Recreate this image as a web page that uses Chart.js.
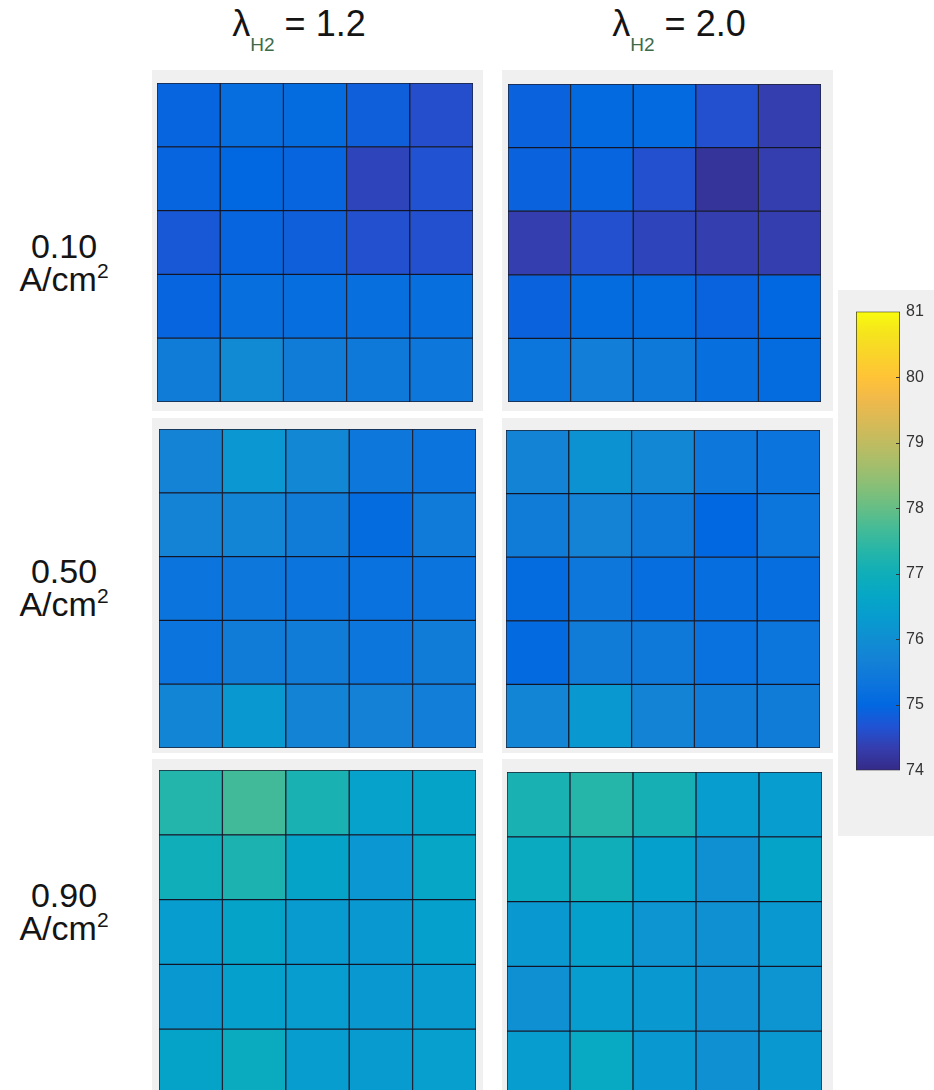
<!DOCTYPE html>
<html>
<head>
<meta charset="utf-8">
<script src="https://cdn.jsdelivr.net/npm/chart.js@4.4.0/dist/chart.umd.min.js"></script>
<style>
  body { margin: 0; background: #fff; width: 934px; height: 1090px; overflow: hidden; position: relative;
         font-family: "Liberation Sans", Arial, sans-serif; color: #141414; }
  .panel { position: absolute; background: #f0f0f0; }
  canvas { position: absolute; }
  .title { position: absolute; top: 4px; width: 240px; text-align: center; font-size: 36px; line-height: 40px; white-space: nowrap; }
  .title sub { font-size: 19px; vertical-align: -15px; line-height: 0; color: #3d6b4a; }
  .rowlab { position: absolute; left: 0; width: 128px; text-align: center; font-size: 34px; line-height: 33px; }
  .rowlab sup { font-size: 21px; vertical-align: 13px; line-height: 0; }
</style>
</head>
<body>
<div class="panel" style="left:152px;top:70px;width:331px;height:341px"></div>
<div class="panel" style="left:502px;top:70px;width:331px;height:341px"></div>
<div class="panel" style="left:152px;top:418px;width:331px;height:335px"></div>
<div class="panel" style="left:502px;top:418px;width:331px;height:335px"></div>
<div class="panel" style="left:152px;top:759px;width:331px;height:331px"></div>
<div class="panel" style="left:502px;top:759px;width:331px;height:331px"></div>
<div class="panel" style="left:838px;top:290px;width:96px;height:546px"></div>

<div class="title" style="left:179px">&lambda;<sub>H2</sub> = 1.2</div>
<div class="title" style="left:559px">&lambda;<sub>H2</sub> = 2.0</div>

<div class="rowlab" style="top:230px">0.10<br>A/cm<sup>2</sup></div>
<div class="rowlab" style="top:555px">0.50<br>A/cm<sup>2</sup></div>
<div class="rowlab" style="top:879px">0.90<br>A/cm<sup>2</sup></div>

<canvas id="m010_12" width="318" height="321" style="left:156px;top:82px"></canvas>
<canvas id="m010_20" width="315" height="320" style="left:507px;top:83px"></canvas>
<canvas id="m050_12" width="319" height="321" style="left:158px;top:428px"></canvas>
<canvas id="m050_20" width="316" height="320" style="left:505px;top:429px"></canvas>
<canvas id="m090_12" width="319" height="326" style="left:158px;top:769px"></canvas>
<canvas id="m090_20" width="317" height="326" style="left:506px;top:771px"></canvas>
<canvas id="cbar" width="84" height="490" style="left:850px;top:296px"></canvas>

<script>
// cell grid: 5 columns, rows listed top to bottom
const cellColumns = ['1', '2', '3', '4', '5'];
const colorTicks = [74, 75, 76, 77, 78, 79, 80, 81];
const colorMin = 74;
const colorMax = 81;

// 0.10 A/cm2
const j010_l12 = [
  [74.95, 75.15, 75.1, 74.85, 74.6],
  [74.95, 75.0, 74.95, 74.45, 74.65],
  [74.75, 74.95, 74.85, 74.62, 74.62],
  [74.95, 75.2, 75.15, 75.2, 75.2],
  [75.55, 75.9, 75.55, 75.45, 75.4]
];
const j010_l20 = [
  [74.9, 75.05, 75.05, 74.62, 74.35],
  [74.9, 74.95, 74.62, 74.18, 74.35],
  [74.35, 74.62, 74.45, 74.35, 74.35],
  [74.9, 75.1, 75.1, 74.92, 75.0],
  [75.35, 75.6, 75.45, 75.2, 75.1]
];
// 0.50 A/cm2
const j050_l12 = [
  [75.7, 76.2, 75.85, 75.4, 75.3],
  [75.7, 75.8, 75.55, 75.1, 75.5],
  [75.3, 75.4, 75.3, 75.25, 75.3],
  [75.3, 75.55, 75.55, 75.35, 75.55],
  [75.8, 76.25, 75.75, 75.65, 75.6]
];
const j050_l20 = [
  [75.75, 76.1, 75.85, 75.4, 75.3],
  [75.55, 75.7, 75.45, 75.0, 75.35],
  [75.1, 75.4, 75.15, 75.15, 75.15],
  [75.05, 75.55, 75.45, 75.25, 75.35],
  [75.8, 76.25, 75.75, 75.55, 75.55]
];
// 0.90 A/cm2
const j090_l12 = [
  [77.3, 77.65, 77.15, 76.5, 76.55],
  [77.0, 77.2, 76.55, 76.2, 76.65],
  [76.35, 76.55, 76.3, 76.25, 76.45],
  [76.25, 76.45, 76.35, 76.25, 76.3],
  [76.55, 76.85, 76.35, 76.3, 76.4]
];
const j090_l20 = [
  [77.15, 77.35, 77.1, 76.35, 76.35],
  [76.8, 77.0, 76.45, 76.05, 76.55],
  [76.25, 76.45, 76.15, 76.05, 76.25],
  [76.05, 76.35, 76.25, 76.05, 76.15],
  [76.35, 76.75, 76.25, 76.05, 76.25]
];

// parula, every third entry of the 64-colour table
const parula = [
  [0.2081, 0.1663, 0.5292], [0.2081, 0.2386, 0.6771], [0.1253, 0.3242, 0.8303], [0.0060, 0.4086, 0.8828],
  [0.0498, 0.4586, 0.8641], [0.0779, 0.5040, 0.8384], [0.0641, 0.5570, 0.8240], [0.0265, 0.6137, 0.8135],
  [0.0228, 0.6535, 0.7768], [0.0590, 0.6838, 0.7254], [0.1453, 0.7098, 0.6646], [0.2586, 0.7317, 0.5954],
  [0.3953, 0.7459, 0.5244], [0.5300, 0.7491, 0.4661], [0.6473, 0.7456, 0.4188], [0.7525, 0.7384, 0.3768],
  [0.8507, 0.7299, 0.3360], [0.9450, 0.7261, 0.2886], [0.9990, 0.7653, 0.2164], [0.9789, 0.8271, 0.1633],
  [0.9589, 0.8949, 0.1132], [0.9763, 0.9831, 0.0538]
];

function rgb(c) {
  return 'rgb(' + c.map(v => Math.round(v * 255)).join(',') + ')';
}

function colorFor(v) {
  let t = (v - colorMin) / (colorMax - colorMin);
  t = Math.max(0, Math.min(1, t)) * (parula.length - 1);
  const i = Math.min(Math.floor(t), parula.length - 2);
  const f = t - i;
  return rgb(parula[i].map((a, k) => a + (parula[i + 1][k] - a) * f));
}

function drawMap(id, values) {
  const datasets = [];
  // stacked bars build from the bottom, so last row goes first
  for (let r = values.length - 1; r >= 0; r--) {
    datasets.push({
      data: values[r].map(() => 1),
      backgroundColor: values[r].map(colorFor),
      borderColor: 'rgba(5,10,30,0.9)',
      borderWidth: 1,
      borderSkipped: false,
      barPercentage: 1,
      categoryPercentage: 1
    });
  }
  new Chart(document.getElementById(id), {
    type: 'bar',
    data: { labels: cellColumns, datasets: datasets },
    options: {
      responsive: false,
      animation: false,
      layout: { padding: 1 },
      plugins: { legend: { display: false }, tooltip: { enabled: false } },
      scales: {
        x: { stacked: true, display: false },
        y: { stacked: true, display: false, min: 0, max: values.length }
      }
    }
  });
}

drawMap('m010_12', j010_l12);
drawMap('m010_20', j010_l20);
drawMap('m050_12', j050_l12);
drawMap('m050_20', j050_l20);
drawMap('m090_12', j090_l12);
drawMap('m090_20', j090_l20);

// small inward tick marks on the colour bar
const innerTicks = {
  id: 'innerTicks',
  afterDatasetsDraw(chart) {
    const y = chart.scales.y;
    const c = chart.ctx;
    const right = chart.chartArea.right;
    c.save();
    c.strokeStyle = '#333';
    c.lineWidth = 1;
    colorTicks.slice(1, -1).forEach(t => {
      const py = Math.round(y.getPixelForValue(t)) + 0.5;
      c.beginPath();
      c.moveTo(right - 4, py);
      c.lineTo(right, py);
      c.stroke();
    });
    c.restore();
  }
};

new Chart(document.getElementById('cbar'), {
  type: 'bar',
  data: {
    labels: [''],
    datasets: [{
      data: [[colorMin, colorMax]],
      backgroundColor: function (ctx) {
        const chart = ctx.chart;
        if (!chart.chartArea) return null;
        const y = chart.scales.y;
        const g = chart.ctx.createLinearGradient(0, y.getPixelForValue(colorMin), 0, y.getPixelForValue(colorMax));
        parula.forEach((c, i) => g.addColorStop(i / (parula.length - 1), rgb(c)));
        return g;
      },
      borderColor: '#2a2a2a',
      borderWidth: 1,
      borderSkipped: false,
      barPercentage: 1,
      categoryPercentage: 1
    }]
  },
  options: {
    responsive: false,
    animation: false,
    layout: { padding: { left: 6, top: 13, bottom: 14, right: 0 } },
    plugins: { legend: { display: false }, tooltip: { enabled: false } },
    scales: {
      x: { display: false },
      y: {
        position: 'right',
        min: colorMin,
        max: colorMax,
        afterFit: s => { s.width = 34; },
        afterBuildTicks: s => { s.ticks = colorTicks.map(v => ({ value: v })); },
        border: { display: false },
        grid: { drawOnChartArea: false, drawTicks: false },
        ticks: { color: '#333', padding: 6, font: { family: 'Liberation Sans', size: 16 } }
      }
    }
  },
  plugins: [innerTicks]
});
</script>
</body>
</html>
